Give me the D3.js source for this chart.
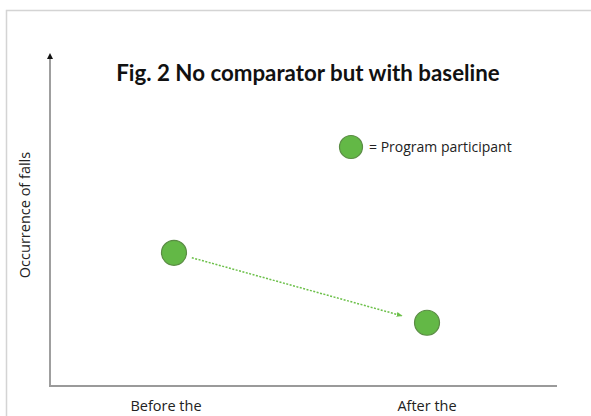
<!DOCTYPE html>
<html>
<head>
<meta charset="utf-8">
<script src="https://cdn.jsdelivr.net/npm/d3@7/dist/d3.min.js"></script>
<style>
  html, body { margin: 0; padding: 0; background: #fff; }
  svg { display: block; }
</style>
</head>
<body>
<svg id="chart" width="591" height="416"></svg>
<script>
// Study design sketch: occurrence of falls before and after the program
const categories = ["Before the", "After the"];
const fallsValues = [4.0, 1.9];
const titleText = "Fig. 2 No comparator but with baseline";
const yAxisLabel = "Occurrence of falls";
const legendLabel = "= Program participant";

const W = 591, H = 416;
const axisLeft = 50, axisBottom = 386, axisTop = 53, axisRight = 557;

const svg = d3.select("#chart");
const titleFont = "Lato, 'Open Sans', sans-serif";
const font = "'Open Sans', 'Noto Sans', sans-serif";

const green = "#63b846";
const greenStroke = "#5b8c45";

// outer frame
svg.append("rect")
  .attr("x", 6.5).attr("y", 10.5)
  .attr("width", W + 20).attr("height", H + 20)
  .attr("fill", "none").attr("stroke", "#d4d4d4").attr("stroke-width", 1.5);

const x = d3.scalePoint().domain(categories).range([axisLeft, 551]).padding(0.49);
const y = d3.scaleLinear().domain([0, 10]).range([axisBottom, axisTop]);

const defs = svg.append("defs");
defs.append("marker")
  .attr("id", "axisArrow").attr("viewBox", "0 0 10 10")
  .attr("refX", 5).attr("refY", 5)
  .attr("markerWidth", 6).attr("markerHeight", 6)
  .attr("markerUnits", "userSpaceOnUse")
  .attr("orient", "auto")
  .append("path").attr("d", "M0,0 L10,5 L0,10 Z").attr("fill", "#111");
defs.append("marker")
  .attr("id", "trendArrow").attr("viewBox", "0 0 10 10")
  .attr("refX", 8).attr("refY", 5)
  .attr("markerWidth", 6).attr("markerHeight", 6)
  .attr("markerUnits", "userSpaceOnUse")
  .attr("orient", "auto")
  .append("path").attr("d", "M0,1 L10,5 L0,9 Z").attr("fill", "#6cc04a");

// axes (no ticks)
svg.append("line")
  .attr("x1", axisLeft).attr("y1", axisBottom)
  .attr("x2", axisLeft).attr("y2", axisTop + 3)
  .attr("stroke", "#7f7f7f").attr("stroke-width", 1.5)
  .attr("marker-end", "url(#axisArrow)");
svg.append("line")
  .attr("x1", axisLeft - 1).attr("y1", axisBottom)
  .attr("x2", axisRight).attr("y2", axisBottom)
  .attr("stroke", "#9a9a9a").attr("stroke-width", 2);

// title
svg.append("text")
  .attr("x", 308).attr("y", 81)
  .attr("text-anchor", "middle")
  .attr("font-family", titleFont).attr("font-weight", "bold")
  .attr("font-size", 22.3).attr("fill", "#111")
  .text(titleText);

// y axis label
svg.append("text")
  .attr("transform", `translate(30,215) rotate(-90)`)
  .attr("text-anchor", "middle")
  .attr("font-family", font).attr("font-size", 14.5).attr("fill", "#222")
  .text(yAxisLabel);

// category labels
svg.selectAll("text.cat").data(categories).join("text")
  .attr("class", "cat")
  .attr("x", (d, i) => x(d) + (i === 0 ? -8 : 0)).attr("y", 411)
  .attr("text-anchor", "middle")
  .attr("font-family", font).attr("font-size", 14.5).attr("fill", "#222")
  .text(d => d);

// trend arrow between the two points
const pts = categories.map((c, i) => [x(c), y(fallsValues[i])]);
const dx = pts[1][0] - pts[0][0], dy = pts[1][1] - pts[0][1];
const len = Math.hypot(dx, dy);
const ux = dx / len, uy = dy / len;
const r = 12.5;
svg.append("line")
  .attr("x1", pts[0][0] + ux * (r + 6)).attr("y1", pts[0][1] + uy * (r + 6))
  .attr("x2", pts[1][0] - ux * (r + 14)).attr("y2", pts[1][1] - uy * (r + 14))
  .attr("stroke", "#6cc04a").attr("stroke-width", 1.5)
  .attr("stroke-dasharray", "2,1.5")
  .attr("marker-end", "url(#trendArrow)");

// participant points
svg.selectAll("circle.pt").data(fallsValues).join("circle")
  .attr("class", "pt")
  .attr("cx", (d, i) => x(categories[i]))
  .attr("cy", d => y(d))
  .attr("r", r)
  .attr("fill", green).attr("stroke", greenStroke).attr("stroke-width", 1.2);

// legend
svg.append("circle")
  .attr("cx", 351).attr("cy", 147).attr("r", 11.5)
  .attr("fill", green).attr("stroke", greenStroke).attr("stroke-width", 1.2);
svg.append("text")
  .attr("x", 369).attr("y", 151.5)
  .attr("font-family", font).attr("font-size", 14).attr("fill", "#222")
  .text(legendLabel);
</script>
</body>
</html>
